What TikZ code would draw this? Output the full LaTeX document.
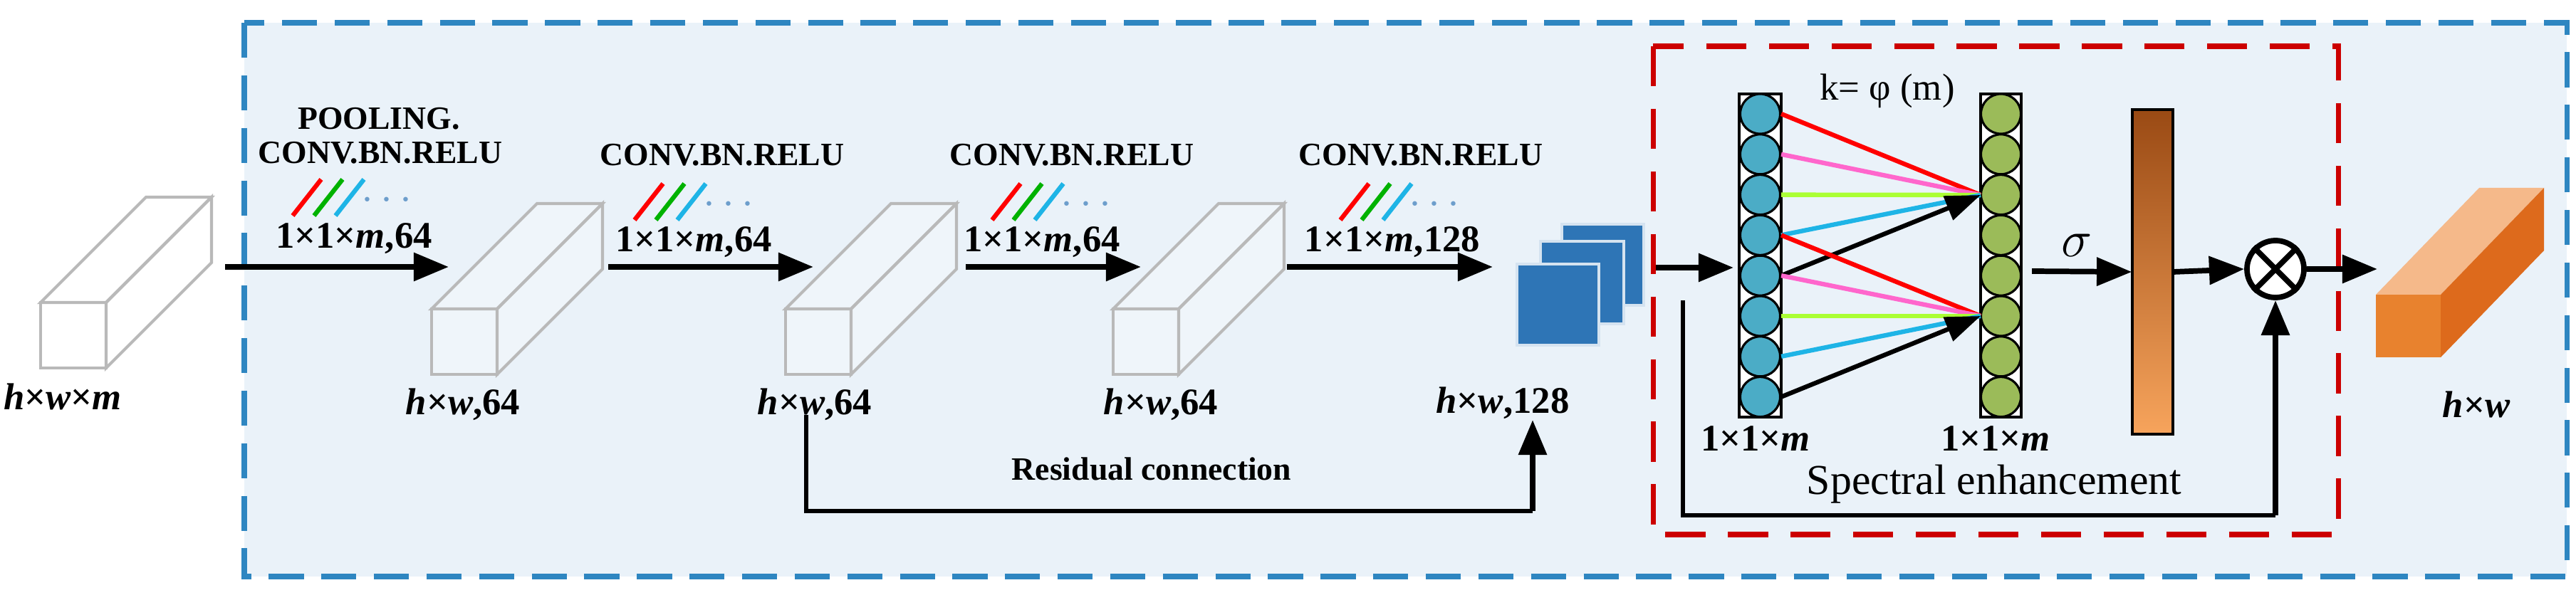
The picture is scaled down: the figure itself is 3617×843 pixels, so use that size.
\documentclass[tikz,border=0pt]{standalone}
\usepackage{fontspec}
\setmainfont{Liberation Serif}
\usetikzlibrary{arrows.meta}
\definecolor{bgblue}{HTML}{EAF2F9}
\definecolor{dashblue}{HTML}{2E86C1}
\definecolor{sqblue}{HTML}{2E75B6}
\definecolor{cblue}{HTML}{4BACC6}
\definecolor{cgreen}{HTML}{9BBB59}
\definecolor{ofront}{HTML}{E8822E}
\definecolor{otop}{HTML}{F5B98A}
\definecolor{oside}{HTML}{DD6A1C}
\definecolor{lmag}{HTML}{FF66CC}
\definecolor{llime}{HTML}{AAFF33}
\definecolor{lcyan}{HTML}{1EB4E6}
\definecolor{bartop}{HTML}{9A4A14}
\definecolor{barbot}{HTML}{F7A45C}
\tikzset{
  arr/.style={line width=2.2pt,-{Triangle[length=14pt,width=11pt]}},
  plain/.style={line width=1.6pt},
  cub/.style={draw=gray!55,line width=1.2pt,fill=white,fill opacity=0.25},
  conv/.style={font=\fontsize{13}{15}\selectfont\bfseries},
  dim/.style={font=\fontsize{15}{17}\selectfont\bfseries},
  stripe/.style={line width=1.8pt},
}
\newcommand\mycub[3]{% x y name
  \coordinate (#3) at (#1,#2);
  \draw[cub] (#1,#2) rectangle ++(92,92);
  \draw[cub] (#1,#2) -- ++(148,-148) -- ++(92,0) -- ++(-148,148) -- cycle;
  \draw[cub] (#1+92,#2) -- ++(148,-148) -- ++(0,92) -- ++(-148,148) -- cycle;
}
\newcommand\stripes[2]{% x0 y
  \draw[stripe,red] (#1,#2+51) -- ++(40,-51);
  \draw[stripe,green!70!black] (#1+30,#2+51) -- ++(40,-51);
  \draw[stripe,lcyan] (#1+60,#2+51) -- ++(40,-51);
  \node[text=sqblue!70,font=\fontsize{18}{18}\selectfont] at (#1+132,#2+30) {$\cdots$};
}
\begin{document}
\begin{tikzpicture}[x=0.01cm,y=-0.01cm]
\useasboundingbox (0,0) rectangle (3617,843);
% outer box
\draw[dashblue,fill=bgblue,line width=2pt,dash pattern=on 14pt off 7pt] (343,32) rectangle (3604,810);
% cuboids
\mycub{57}{425}{c0}
\mycub{606}{434}{c1}
\mycub{1103}{434}{c2}
\mycub{1563}{434}{c3}
\node[dim,font=\fontsize{15}{17}\selectfont\bfseries\itshape] (l0) at (88,557) {h\textup{×}w\textup{×}m};
\node[dim] (l1) at (650,568) {\textit{h}×\textit{w},64};
\node[dim] (l2) at (1144,568) {\textit{h}×\textit{w},64};
\node[dim] (l3) at (1630,568) {\textit{h}×\textit{w},64};
\node[dim] (l4) at (2110,566) {\textit{h}×\textit{w},128};
% arrows
\coordinate (a0s) at (316,375); \coordinate (a0e) at (630,375);
\coordinate (a1s) at (854,375); \coordinate (a1e) at (1142,375);
\coordinate (a2s) at (1356,375); \coordinate (a2e) at (1602,375);
\coordinate (a3s) at (1807,375); \coordinate (a3e) at (2096,375);
\draw[arr] (a0s) -- (a0e);
\draw[arr] (a1s) -- (a1e);
\draw[arr] (a2s) -- (a2e);
\draw[arr] (a3s) -- (a3e);
% group labels
\node[conv] (p0) at (532,167) {POOLING.};
\node[conv] (g0) at (534,215) {CONV.BN.RELU};
\stripes{411}{252}
\node[dim] (d0) at (497,335) {1×1×\textit{m},64};
\node[conv] (g1) at (1014,218) {CONV.BN.RELU};
\stripes{891}{258}
\node[dim] (d1) at (974,340) {1×1×\textit{m},64};
\node[conv] (g2) at (1505,218) {CONV.BN.RELU};
\stripes{1393}{258}
\node[dim] (d2) at (1463,340) {1×1×\textit{m},64};
\node[conv] (g3) at (1995,218) {CONV.BN.RELU};
\stripes{1882}{258}
\node[dim] (d3) at (1955,340) {1×1×\textit{m},128};
% blue squares
\fill[sqblue,draw=white!80!sqblue,line width=1pt] (2193,315) rectangle (2308,429);
\fill[sqblue,draw=white!80!sqblue,line width=1pt] (2163,339) rectangle (2280,455);
\fill[sqblue,draw=white!80!sqblue,line width=1pt] (2130,371) rectangle (2245,485);
\coordinate (sq) at (2325,376);
% residual
\coordinate (r0) at (1132,583); \coordinate (r1) at (1132,718);
\coordinate (r2) at (2152,718); \coordinate (r3) at (2152,590);
\draw[plain] (r0) -- (r1) -- (r2);
\draw[arr] (r2) -- (r3);
\node[font=\fontsize{13}{15}\selectfont\bfseries] (res) at (1617,659) {Residual connection};
% red box
\draw[red!80!black,line width=2pt,dash pattern=on 16pt off 9pt] (2321,65) rectangle (3283,751);
% columns
\draw[line width=1.4pt,fill=white] (2442,132) rectangle (2501,586);
\draw[line width=1.4pt,fill=white] (2781,132) rectangle (2838,586);
\foreach \i in {0,...,7}{
  \node[circle,draw=black,line width=0.9pt,fill=cblue,minimum size=0.56cm,inner sep=0] (b\i) at (2471.5,160+56.8*\i) {};
  \node[circle,draw=black,line width=0.9pt,fill=cgreen,minimum size=0.56cm,inner sep=0] (g\i) at (2809.5,160+56.8*\i) {};
}
\coordinate (t1) at (2781,274); \coordinate (t2) at (2781,444);
\draw[line width=1.8pt,red] (b0.east) -- (t1);
\draw[line width=1.8pt,lmag] (b1.east) -- (t1);
\draw[line width=1.8pt,llime] (b2.east) -- (t1);
\draw[line width=1.8pt,lcyan] (b3.east) -- (t1);
\draw[line width=1.8pt,-{Triangle[length=14pt,width=10pt]}] (b4.east) -- (t1);
\draw[line width=1.8pt,red] (b3.east) -- (t2);
\draw[line width=1.8pt,lmag] (b4.east) -- (t2);
\draw[line width=1.8pt,llime] (b5.east) -- (t2);
\draw[line width=1.8pt,lcyan] (b6.east) -- (t2);
\draw[line width=1.8pt,-{Triangle[length=14pt,width=10pt]}] (b7.east) -- (t2);
\node[font=\fontsize{15}{17}\selectfont] (k) at (2650,128) {k= φ (m)};
\node[dim] (cm1) at (2465,616) {1×1×\textit{m}};
\node[dim] (cm2) at (2802,616) {1×1×\textit{m}};
\coordinate (cin) at (2434,376);
\draw[arr] (sq) -- (cin);
% bar
\shade[top color=bartop,bottom color=barbot,draw=black,line width=1.4pt] (2994,154) rectangle (3051,610);
\node[draw=none,minimum width=0.57cm,minimum height=4.56cm,inner sep=0] (bar) at (3022.5,382) {};
\coordinate (gout) at (2853,381);
\draw[arr] (gout) -- (bar.west);
\node[font=\fontsize{20}{20}\selectfont] (sig) at (2916,345) {$\sigma$};
\node[circle,draw,line width=2.2pt,minimum size=0.8cm,inner sep=0,fill=white] (ot) at (3195,378) {};
\draw[line width=2.2pt] (ot.45) -- (ot.225) (ot.135) -- (ot.315);
\draw[arr] (bar.east) -- (ot.west);
\coordinate (s0) at (2363,422); \coordinate (s1) at (2363,724); \coordinate (s2) at (3195,724);
\draw[plain] (s0) -- (s1) -- (s2);
\draw[arr] (s2) -- (ot.south);
\node[font=\fontsize{17}{19}\selectfont] (spec) at (2800,680) {Spectral enhancement};
% output cuboid
\coordinate (oc) at (3336,414);
\fill[ofront] (3336,414) rectangle ++(91,88);
\fill[otop] (3336,414) -- ++(145,-150) -- ++(91,0) -- ++(-145,150) -- cycle;
\fill[oside] (3427,414) -- ++(145,-150) -- ++(0,88) -- ++(-145,150) -- cycle;
\coordinate (oin) at (3338,378);
\draw[arr] (ot.east) -- (oin);
\node[dim,font=\fontsize{15}{17}\selectfont\bfseries\itshape] (lo) at (3477,568) {h\textup{×}w};
\end{tikzpicture}
\end{document}
